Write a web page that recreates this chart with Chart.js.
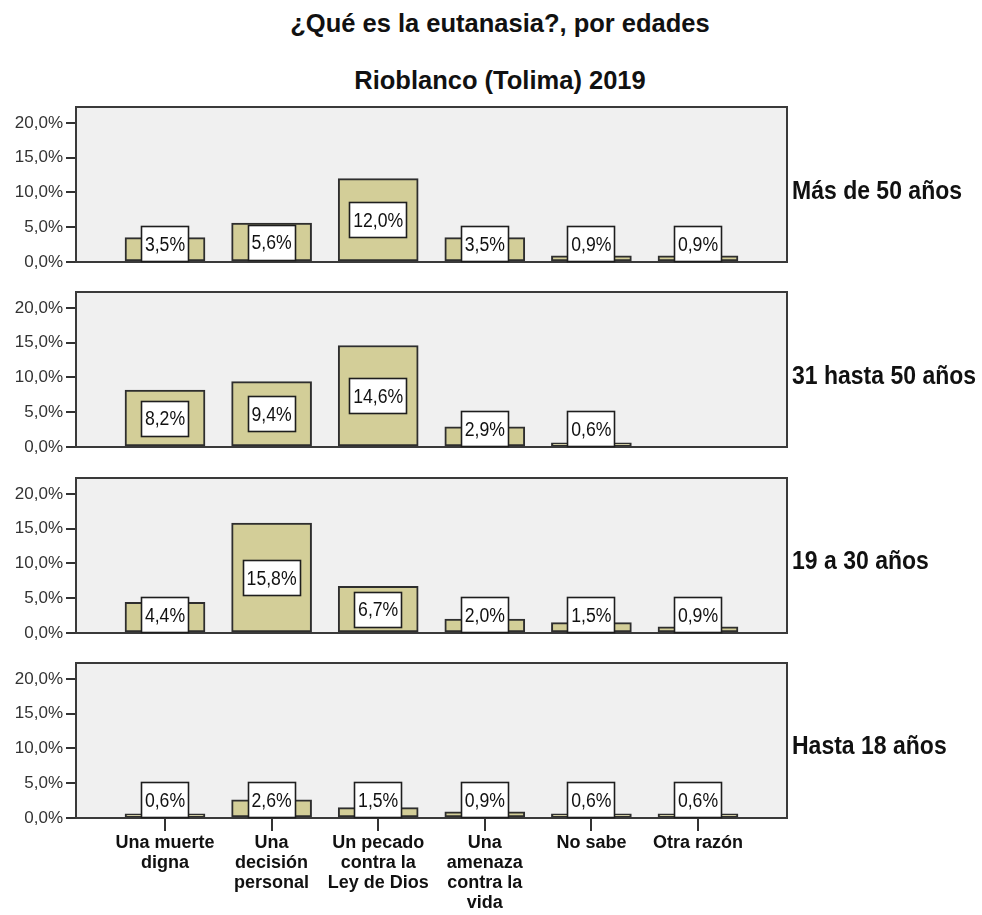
<!DOCTYPE html>
<html>
<head>
<meta charset="utf-8">
<script src="https://cdn.jsdelivr.net/npm/chart.js@4/dist/chart.umd.min.js"></script>
<style>
  html, body { margin: 0; padding: 0; background: #ffffff; }
  #wrap { position: relative; width: 982px; height: 915px; overflow: hidden; }
  .title { position: absolute; left: 0; width: 1000px; text-align: center;
           font-family: "Liberation Sans", Arial, sans-serif; font-weight: bold; font-size: 25.5px; color: #111; }
  .group { position: absolute; left: 792px; font-family: "Liberation Sans", Arial, sans-serif;
           font-weight: bold; font-size: 25px; color: #111; white-space: nowrap; line-height: 30px;
           transform: scaleX(0.92); transform-origin: left center; }
  canvas { position: absolute; left: 0; }
</style>
</head>
<body>
<div id="wrap">
  <div class="title" style="top:9px;">¿Qué es la eutanasia?, por edades</div>
  <div class="title" style="top:66px;">Rioblanco (Tolima) 2019</div>
</div>
<script>
// ---- data ----
const categories = [
  ['Una muerte', 'digna'],
  ['Una', 'decisión', 'personal'],
  ['Un pecado', 'contra la', 'Ley de Dios'],
  ['Una', 'amenaza', 'contra la', 'vida'],
  ['No sabe'],
  ['Otra razón']
];
const groups = ['Más de 50 años', '31 hasta 50 años', '19 a 30 años', 'Hasta 18 años'];
const mas50   = [3.5, 5.6, 12.0, 3.5, 0.9, 0.9];
const de31a50 = [8.2, 9.4, 14.6, 2.9, 0.6, null];
const de19a30 = [4.4, 15.8, 6.7, 2.0, 1.5, 0.9];
const hasta18 = [0.6, 2.6, 1.5, 0.9, 0.6, 0.6];
const yTickValues = [0, 5, 10, 15, 20];
const yTickLabels = ['0,0%', '5,0%', '10,0%', '15,0%', '20,0%'];
const seriesList = [mas50, de31a50, de19a30, hasta18];

// ---- layout ----
const W = 982;
const PLOT_LEFT = 76, PLOT_RIGHT = 787;
const PANEL_H = 155;
const FIRST_ZERO = 262, PANEL_STEP = 185.33;
const TOP_PAD = 15;

const SANS = '"Liberation Sans", Arial, sans-serif';
const LABEL_SQUEEZE = 0.86;

const framePlugin = {
  id: 'frame',
  beforeDatasetsDraw(chart) {
    const a = chart.chartArea, ctx = chart.ctx;
    ctx.save();
    ctx.fillStyle = '#f0f0f0';
    ctx.fillRect(a.left, a.top, a.right - a.left, a.bottom - a.top);
    ctx.strokeStyle = '#3a3a3a';
    ctx.lineWidth = 2;
    ctx.strokeRect(a.left, a.top, a.right - a.left, a.bottom - a.top);
    ctx.restore();
  }
};

const valueLabelPlugin = {
  id: 'valueLabels',
  afterDatasetsDraw(chart) {
    const ctx = chart.ctx;
    const ys = chart.scales.y;
    const meta = chart.getDatasetMeta(0);
    const ds = chart.data.datasets[0].data;
    ctx.save();
    ctx.font = '20.5px ' + SANS;
    ctx.textAlign = 'center';
    ctx.textBaseline = 'middle';
    meta.data.forEach((el, i) => {
      const d = ds[i];
      if (!d || d.y === null || d.y === undefined) return;
      const txt = d.y.toFixed(1).replace('.', ',') + '%';
      const zero = ys.getPixelForValue(0);
      const cy = Math.min(ys.getPixelForValue(d.y / 2), zero - 18);
      const tw = ctx.measureText(txt).width * LABEL_SQUEEZE;
      const bw = Math.round(tw + 8), bh = 36;
      const bx = Math.round(el.x - bw / 2), by = Math.round(cy - bh / 2);
      ctx.fillStyle = '#ffffff';
      ctx.fillRect(bx, by, bw, bh);
      ctx.strokeStyle = '#1e1e1e';
      ctx.lineWidth = 1.6;
      ctx.strokeRect(bx + 0.5, by + 0.5, bw - 1, bh - 1);
      ctx.fillStyle = '#111111';
      ctx.save();
      ctx.translate(el.x, cy + 1);
      ctx.scale(LABEL_SQUEEZE, 1);
      ctx.fillText(txt, 0, 0);
      ctx.restore();
    });
    ctx.restore();
  }
};

const wrap = document.getElementById('wrap');

seriesList.forEach((vals, p) => {
  const last = p === seriesList.length - 1;
  const zeroY = FIRST_ZERO + p * PANEL_STEP;
  const top = Math.round(zeroY - PANEL_H - TOP_PAD);
  const bottomH = last ? (915 - Math.round(zeroY)) : 15;
  const H = TOP_PAD + PANEL_H + bottomH;

  const cv = document.createElement('canvas');
  cv.width = W; cv.height = H;
  cv.style.top = top + 'px';
  cv.style.width = W + 'px'; cv.style.height = H + 'px';
  wrap.appendChild(cv);

  const g = document.createElement('div');
  g.className = 'group';
  g.textContent = groups[p];
  g.style.top = Math.round(zeroY - PANEL_H / 2 - 10) + 'px';
  wrap.appendChild(g);

  new Chart(cv, {
    type: 'bar',
    data: {
      datasets: [{
        data: vals.map((v, i) => ({ x: i, y: v })),
        backgroundColor: '#d3ce98',
        borderColor: '#2e2e2e',
        borderWidth: 2,
        borderSkipped: false,
        barThickness: 80
      }]
    },
    options: {
      responsive: false,
      animation: false,
      devicePixelRatio: 1,
      layout: { padding: { top: TOP_PAD, right: W - PLOT_RIGHT, left: 0, bottom: 0 } },
      plugins: { legend: { display: false }, tooltip: { enabled: false } },
      scales: {
        x: {
          type: 'linear',
          offset: false,
          min: -0.835,
          max: categories.length - 1 + 0.835,
          afterBuildTicks: s => { s.ticks = categories.map((c, i) => ({ value: i })); },
          afterFit: s => { s.height = bottomH; },
          border: { display: false },
          grid: { display: last, offset: false, drawOnChartArea: false, drawTicks: true, tickLength: 13, color: '#333333', lineWidth: 2 },
          ticks: {
            display: last,
            autoSkip: false,
            maxRotation: 0,
            padding: 2,
            color: '#111111',
            font: { family: SANS, size: 18, weight: 'bold', lineHeight: '20px' },
            callback: (v) => categories[v]
          }
        },
        y: {
          min: 0,
          max: 22.3,
          afterBuildTicks: s => { s.ticks = yTickValues.map(v => ({ value: v })); },
          afterFit: s => { s.width = PLOT_LEFT; },
          border: { display: false },
          grid: { drawOnChartArea: false, drawTicks: true, tickLength: 10, color: '#333333', lineWidth: 2 },
          ticks: {
            padding: 3,
            color: '#333333',
            font: { family: SANS, size: 17 },
            callback: (v) => yTickLabels[yTickValues.indexOf(v)]
          }
        }
      }
    },
    plugins: [framePlugin, valueLabelPlugin]
  });
});
</script>
</body>
</html>
